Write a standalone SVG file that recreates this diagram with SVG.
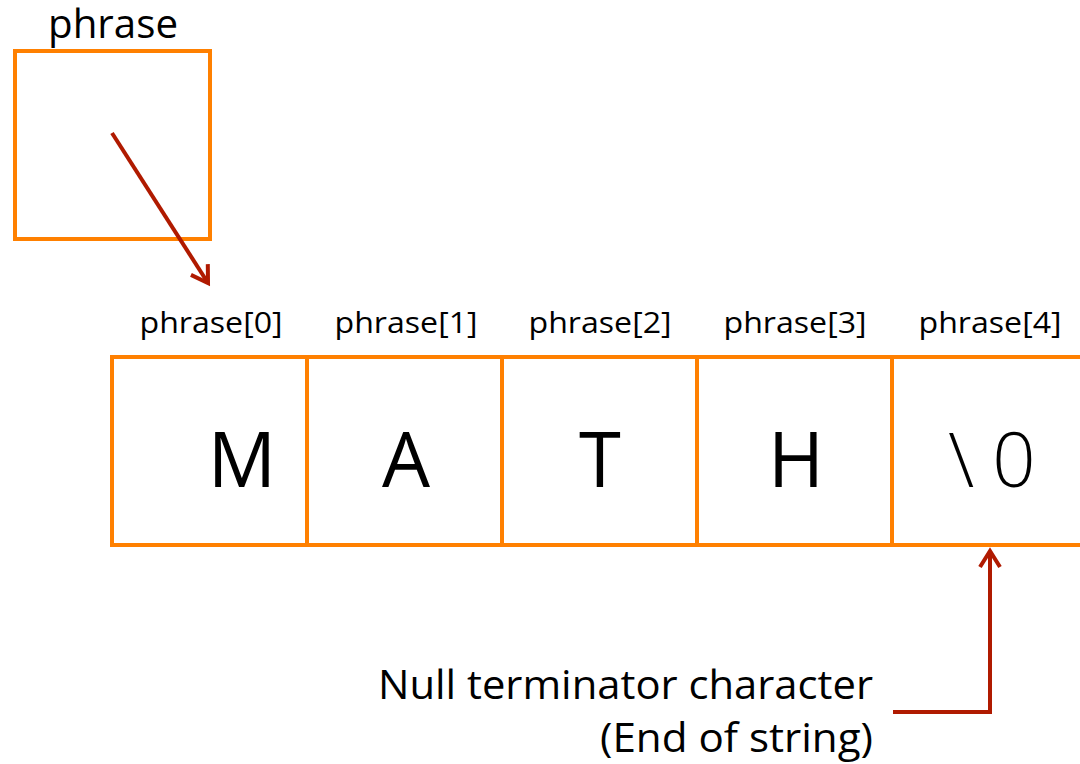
<svg xmlns="http://www.w3.org/2000/svg" width="1080" height="764" viewBox="0 0 1080 764">
<style>
.box{fill:#fff;stroke:#FF8000;stroke-width:4}
.lbl{font-family:"Open Sans","Liberation Sans",sans-serif;fill:#000}
.idx{font-size:30px;text-anchor:middle}
.big{font-size:76px;text-anchor:middle}
.conn{fill:none;stroke:#B01A00;stroke-width:4}
</style>
<defs>
<marker id="arr" viewBox="0 0 12 12" refX="10" refY="6" markerWidth="6" markerHeight="6" markerUnits="strokeWidth" orient="auto">
<path d="M2,1 L10,6 L2,11" fill="none" stroke="#B01A00" stroke-width="2" stroke-linejoin="miter"/>
</marker>
</defs>
<g id="pointer">
<rect class="box" x="15" y="51" width="195" height="188"/>
<text class="lbl" x="113" y="38" font-size="40" text-anchor="middle" textLength="130" lengthAdjust="spacingAndGlyphs">phrase</text>
</g>
<g id="array">
<rect class="box" x="112" y="357" width="195" height="188"/>
<rect class="box" x="307" y="357" width="195" height="188"/>
<rect class="box" x="502" y="357" width="195" height="188"/>
<rect class="box" x="697" y="357" width="195" height="188"/>
<path d="M892,357 H1084 M892,545 H1084 M892,357 V545" fill="none" stroke="#FF8000" stroke-width="4"/>
<text class="lbl idx" x="211" y="333" textLength="143" lengthAdjust="spacingAndGlyphs">phrase[0]</text>
<text class="lbl idx" x="406" y="333" textLength="143" lengthAdjust="spacingAndGlyphs">phrase[1]</text>
<text class="lbl idx" x="600" y="333" textLength="143" lengthAdjust="spacingAndGlyphs">phrase[2]</text>
<text class="lbl idx" x="795" y="333" textLength="143" lengthAdjust="spacingAndGlyphs">phrase[3]</text>
<text class="lbl idx" x="990" y="333" textLength="143" lengthAdjust="spacingAndGlyphs">phrase[4]</text>
<text class="lbl big" x="242" y="487">M</text>
<text class="lbl big" x="406" y="487">A</text>
<text class="lbl big" x="600" y="487">T</text>
<text class="lbl big" x="796" y="487">H</text>
<text class="lbl big" x="1001" y="487" font-weight="300" letter-spacing="18">\0</text>
</g>
<g id="note">
<text class="lbl" x="873" y="699" font-size="40" text-anchor="end" textLength="495" lengthAdjust="spacingAndGlyphs">Null terminator character</text>
<text class="lbl" x="873" y="752" font-size="40" text-anchor="end" textLength="273" lengthAdjust="spacingAndGlyphs">(End of string)</text>
</g>
<g id="connectors">
<path class="conn" d="M112,133 L208,283" marker-end="url(#arr)"/>
<path class="conn" d="M893,712 H990 V551" marker-end="url(#arr)"/>
</g>
</svg>
